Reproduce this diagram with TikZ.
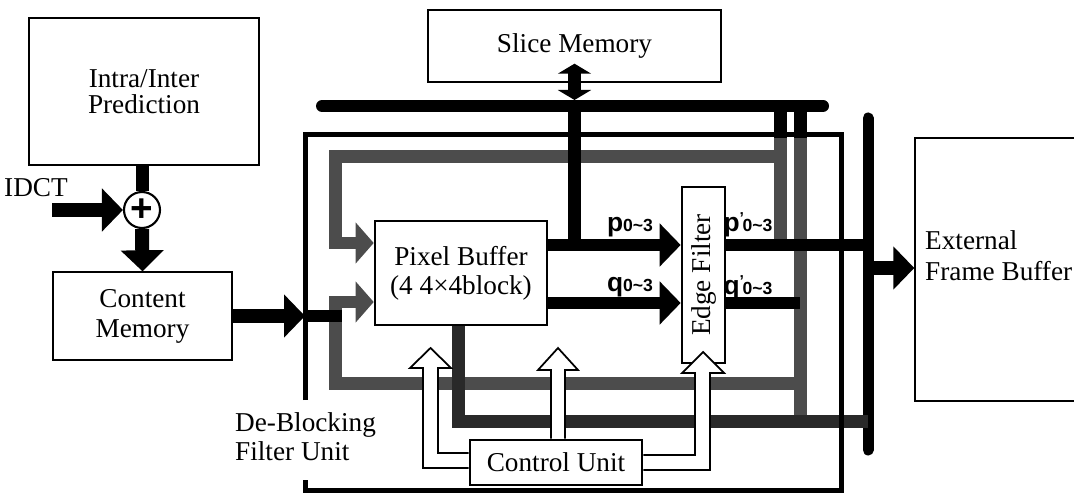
\documentclass[tikz,border=0pt]{standalone}
\usepackage{fontspec}
\setmainfont{Liberation Serif}
\setsansfont{Liberation Sans}
\usetikzlibrary{arrows.meta}
\definecolor{fbgray}{gray}{0.3}
\definecolor{outgray}{gray}{0.16}
\newcommand{\sigrange}{{\fontsize{10}{10}\selectfont 0\textasciitilde3}}
\newcommand{\sigprime}{\raisebox{0.3em}{\fontsize{9}{9}\selectfont '}\kern-0.05em}

\begin{document}
\begin{tikzpicture}[
    x=0.02cm, y=-0.02cm,
    every node/.style={font=\fontsize{15.5}{16.5}\selectfont},
    block/.style={draw, line width=0.8pt, align=center, inner sep=0pt},
    unit/.style={draw, line width=1.5pt, fill=white, align=center, inner sep=0pt},
    wire/.style={line width=0.26cm},
    fbwire/.style={wire, draw=fbgray},
    outwire/.style={wire, draw=outgray},
    bus/.style={line width=0.22cm, line cap=round},
    flow/.style={line width=0.28cm, -{Triangle[length=0.42cm,width=0.84cm]}},
    fbflow/.style={fbwire, -{Triangle[length=0.36cm,width=0.8cm]}},
    ctrlflow/.style={draw, fill=white, line width=1pt},
    sig/.style={font=\sffamily\bfseries\fontsize{15}{15}\selectfont}
]
\path[use as bounding box] (0,0) rectangle (1074,496);
\clip (0,0) rectangle (1074,496);

% blocks outside the filter unit
\node[block, minimum width=4.6cm, minimum height=2.94cm, font=\fontsize{15.5}{14.5}\selectfont] (pred) at (144,91.5) {Intra/Inter\\Prediction};
\node[draw, circle, line width=1.2pt, minimum size=0.72cm, inner sep=0pt, font=\sffamily\bfseries\fontsize{22}{22}\selectfont] (add) at (142,210) {+};
\node (idctlbl) at (36,188) {IDCT};
\coordinate (idct) at (52,210);
\node[block, minimum width=3.58cm, minimum height=1.76cm, font=\fontsize{15.5}{17}\selectfont] (cmem) at (142.5,316) {Content\\Memory};
\node[block, minimum width=5.86cm, minimum height=1.44cm] (slice) at (574.5,46) {Slice Memory};
\node[block, minimum width=4.1cm, minimum height=5.26cm] (efb) at (1017.5,269.5) {};
\node[anchor=west, align=left, font=\fontsize{15.5}{17.5}\selectfont] (efbtxt) at (919,256) {External\\Frame Buffer};

% units inside the filter unit
\node[unit, minimum width=3.44cm, minimum height=2.08cm] (pbuf) at (461,273) {Pixel Buffer\\(4 4×4block)};
\node[unit, minimum width=0.86cm, minimum height=3.52cm] (edge) at (703.5,275) {\rotatebox{90}{Edge Filter}};
\node[unit, minimum width=3.44cm, minimum height=0.9cm] (ctrl) at (556,462.5) {Control Unit};
\node[anchor=west, align=left] (dbflbl) at (229,437) {De-Blocking\\Filter Unit};

\node[sig] (plbl) at (630,227) {p\sigrange};
\node[sig] (qlbl) at (630,287) {q\sigrange};
\node[sig] (pplbl) at (748,225) {p\sigprime\sigrange};
\node[sig] (qqlbl) at (748,288) {q\sigprime\sigrange};

\coordinate (dbfin) at (305,316);
\coordinate (tbL) at (322,106);
\coordinate (tbR) at (823,106);
\coordinate (tapA) at (780,106);
\coordinate (tapB) at (800,106);
\coordinate (ebT) at (868,118);
\coordinate (ebB) at (868,450);
\coordinate (prow) at (0,245);
\coordinate (qrow) at (0,303);

% outside connections
\draw[wire] (add.north |- pred.south) -- (add.north);
\draw[flow] (idct) -- (add.west);
\draw[flow] (add.south) -- (cmem.north);
\draw[flow] (cmem.east) -- (dbfin);

% buses
\draw[bus, line width=0.24cm] (tbL) -- (tbR);
\draw[bus] (ebT) -- (ebB);
\draw[wire, {Triangle[length=0.2cm,width=0.66cm]}-{Triangle[length=0.2cm,width=0.66cm]}] ([yshift=0.38cm]slice.south) -- (slice.south |- 0,100);
\draw[flow] (ebT |- 0,268) -- (efb.west |- 0,268);

% feedback loops
\draw[wire] (tapA) -- (780,140);
\draw[fbwire] (780,138) -- (780,245);
\draw[wire] (tapB) -- (800,140);
\draw[fbwire] (800,138) -- (800,421);
\draw[fbflow] (780,157) -- (335,157) -- (335,243) -- (pbuf.west |- 0,243);
\draw[fbflow] (800,383) -- (335,383) -- (335,302) -- (pbuf.west |- 0,302);
\draw[wire] (dbfin) -- (342,316);
\draw[outwire] (pbuf.south -| 458,0) -- (458,421) -- (ebT |- 0,421);

% data path
\draw[wire] (slice.south |- tbL) -- (slice.south |- prow);
\draw[flow, line width=0.26cm] (pbuf.east |- prow) -- (edge.west |- prow);
\draw[flow, line width=0.26cm] (pbuf.east |- qrow) -- (edge.west |- qrow);
\draw[wire] (edge.east |- prow) -- (ebT |- prow);
\draw[wire] (edge.east |- qrow) -- (tapB |- qrow);

% filter unit frame
\draw[line width=0.1cm] (305,400) -- (305,135) -- (841,135) -- (841,490) -- (305,490) -- (305,480);

% control signals
\draw[ctrlflow] (ctrl.west |- 0,468) -- (423,468) -- (423,368) -- (410,368) -- (430.5,348) -- (451,368) -- (438,368) -- (438,453) -- (ctrl.west |- 0,453);
\draw[ctrlflow] (ctrl.north -| 551,0) -- (551,370) -- (538,370) -- (558,348) -- (578,370) -- (565,370) -- (ctrl.north -| 565,0);
\draw[ctrlflow] (ctrl.east |- 0,455) -- (695,455) -- (695,373) -- (682,373) -- (703,352) -- (724,373) -- (710,373) -- (710,470) -- (ctrl.east |- 0,470);
\end{tikzpicture}
\end{document}
